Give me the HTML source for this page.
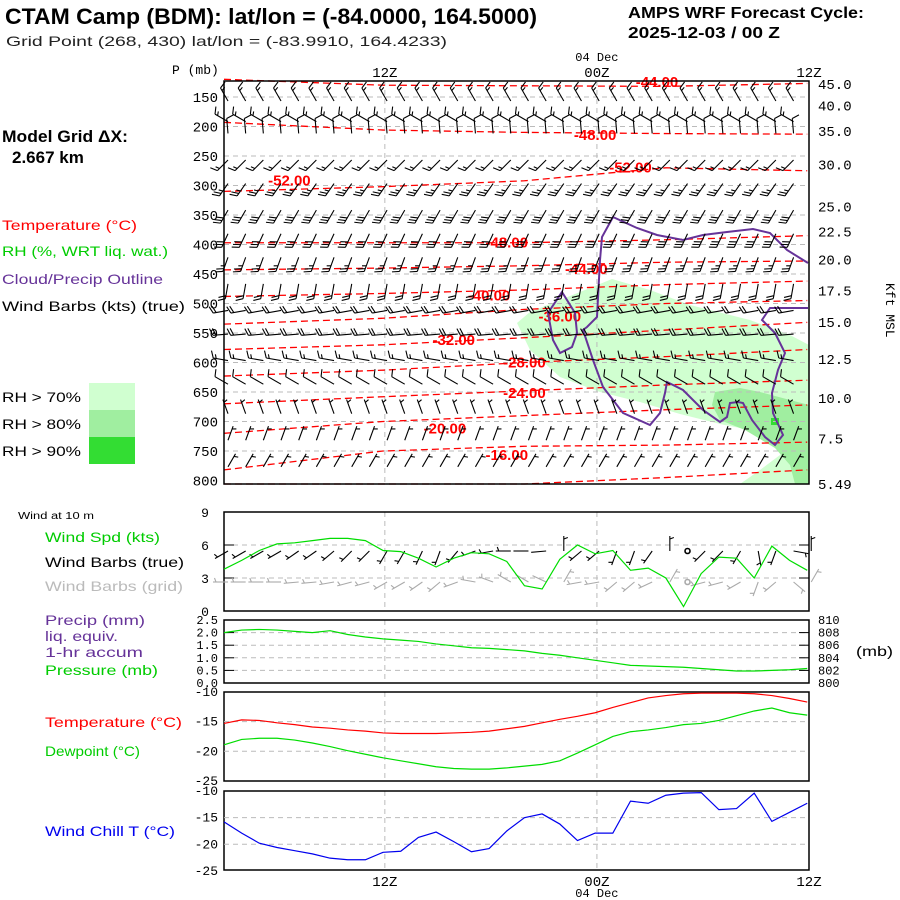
<!DOCTYPE html>
<html><head><meta charset="utf-8">
<style>
body{margin:0;background:#fff;}
svg{display:block;font-family:"Liberation Sans",sans-serif;}
.lt{font-size:14px;}
.tk{font-family:"Liberation Mono",monospace;}
</style></head>
<body>
<svg id="chart" width="900" height="900" viewBox="0 0 900 900">
<rect width="900" height="900" fill="#fff"/>
<text x="5" y="24" font-size="22" font-weight="bold" textLength="532" lengthAdjust="spacingAndGlyphs">CTAM Camp (BDM):  lat/lon = (-84.0000, 164.5000)</text>
<text x="6" y="46" font-size="14" fill="#222" textLength="441" lengthAdjust="spacingAndGlyphs">Grid Point (268, 430) lat/lon = (-83.9910, 164.4233)</text>
<text x="628" y="18" font-size="16" font-weight="bold" textLength="236" lengthAdjust="spacingAndGlyphs">AMPS WRF Forecast Cycle:</text>
<text x="628" y="38" font-size="16" font-weight="bold" textLength="152" lengthAdjust="spacingAndGlyphs">2025-12-03 / 00  Z</text>
<text x="2" y="142" font-size="17" font-weight="bold" textLength="126" lengthAdjust="spacingAndGlyphs">Model Grid ΔX:</text>
<text x="12" y="163" font-size="17" font-weight="bold">2.667 km</text>
<text x="2" y="230" class="lt" fill="#f00" textLength="135" lengthAdjust="spacingAndGlyphs">Temperature (°C)</text>
<text x="2" y="256" class="lt" fill="#00cc00" textLength="166" lengthAdjust="spacingAndGlyphs">RH (%, WRT liq. wat.)</text>
<text x="2" y="284" class="lt" fill="#663399" textLength="161" lengthAdjust="spacingAndGlyphs">Cloud/Precip Outline</text>
<text x="2" y="311" class="lt" fill="#000" textLength="183" lengthAdjust="spacingAndGlyphs">Wind Barbs (kts) (true)</text>
<text x="2" y="402" class="lt" textLength="79" lengthAdjust="spacingAndGlyphs">RH &gt; 70%</text>
<text x="2" y="429" class="lt" textLength="79" lengthAdjust="spacingAndGlyphs">RH &gt; 80%</text>
<text x="2" y="456" class="lt" textLength="79" lengthAdjust="spacingAndGlyphs">RH &gt; 90%</text>
<rect x="89" y="383" width="46" height="27" fill="#d0ffd0"/>
<rect x="89" y="410" width="46" height="27" fill="#a0eea0"/>
<rect x="89" y="437" width="46" height="27" fill="#33dd33"/>
<text x="172" y="74" font-size="13" class="tk">P (mb)</text>
<text x="886" y="283" font-size="13" class="tk" transform="rotate(90 886 283)">Kft MSL</text>

<text x="18" y="519" font-size="10" textLength="76" lengthAdjust="spacingAndGlyphs">Wind at 10 m</text>
<text x="45" y="542" class="lt" fill="#00cc00" textLength="115" lengthAdjust="spacingAndGlyphs">Wind Spd (kts)</text>
<text x="45" y="567" class="lt" fill="#000" textLength="139" lengthAdjust="spacingAndGlyphs">Wind Barbs (true)</text>
<text x="45" y="591" class="lt" fill="#bbb" textLength="138" lengthAdjust="spacingAndGlyphs">Wind Barbs (grid)</text>
<text x="45" y="625" class="lt" fill="#663399" textLength="100" lengthAdjust="spacingAndGlyphs">Precip (mm)</text>
<text x="45" y="641" class="lt" fill="#663399" textLength="73" lengthAdjust="spacingAndGlyphs">liq. equiv.</text>
<text x="45" y="657" class="lt" fill="#663399" textLength="98" lengthAdjust="spacingAndGlyphs">1-hr accum</text>
<text x="45" y="675" class="lt" fill="#00cc00" textLength="113" lengthAdjust="spacingAndGlyphs">Pressure (mb)</text>
<text x="856" y="656" class="lt" textLength="37" lengthAdjust="spacingAndGlyphs">(mb)</text>
<text x="45" y="727" class="lt" fill="#f00" textLength="137" lengthAdjust="spacingAndGlyphs">Temperature (°C)</text>
<text x="45" y="756" class="lt" fill="#00cc00" textLength="95" lengthAdjust="spacingAndGlyphs">Dewpoint (°C)</text>
<text x="45" y="836" class="lt" fill="#0000ee" textLength="130" lengthAdjust="spacingAndGlyphs">Wind Chill T (°C)</text>
<g id="g"></g>
</svg>
<script>
// ---- data ----
const hours = [0,1,2,3,4,5,6,7,8,9,10,11,12,13,14,15,16,17,18,19,20,21,22,23,24,25,26,27,28,29,30,31,32,33];
const windSpd = [3.8,4.6,5.5,6.1,6.2,6.4,6.6,6.6,6.4,5.5,5.4,4.8,4.0,4.8,5.3,5.2,4.5,2.3,2.0,4.7,6.0,5.2,5.5,3.7,3.9,3.0,0.4,3.4,4.9,4.8,3.0,5.9,4.6,3.7];
const sfcPres = [808.0,808.4,808.5,808.4,808.2,808.0,808.3,807.7,807.3,807.0,806.8,806.6,806.2,805.9,805.6,805.5,805.3,805.1,804.7,804.4,804.0,803.6,803.2,802.8,802.7,802.6,802.5,802.3,802.1,801.9,801.9,802.0,802.1,802.3];
const sfcTemp = [-15.3,-14.7,-14.8,-15.2,-15.5,-15.9,-16.1,-16.4,-16.6,-16.9,-17.0,-17.0,-17.0,-16.9,-16.8,-16.6,-16.2,-15.8,-15.2,-14.6,-14.1,-13.5,-12.6,-11.8,-11.0,-10.6,-10.3,-10.2,-10.2,-10.2,-10.3,-10.6,-11.1,-11.7];
const dewpt = [-18.9,-18.0,-17.8,-17.8,-18.1,-18.6,-19.2,-19.9,-20.5,-21.1,-21.6,-22.1,-22.6,-22.9,-23.0,-23.0,-22.8,-22.5,-22.2,-21.6,-20.3,-18.9,-17.5,-16.7,-16.4,-16.0,-15.5,-15.3,-14.8,-14.0,-13.2,-12.7,-13.5,-13.9];
const windChill = [-15.8,-17.9,-19.8,-20.6,-21.2,-21.8,-22.6,-22.9,-22.9,-21.5,-21.3,-18.7,-17.7,-19.5,-21.4,-20.8,-17.5,-15.0,-14.3,-16.2,-19.3,-17.9,-17.9,-11.9,-12.3,-10.8,-10.4,-10.3,-13.5,-13.3,-10.4,-15.7,-14.0,-12.3];
const wind10Dir = [240,240,240,240,235,235,230,225,225,210,210,205,200,220,250,260,270,270,265,0,230,230,200,200,215,0,0,225,225,210,170,200,100,0];
const rowP = [150,185,205,250,290,335,375,415,460,505,545,590,630,680,725,770];
const rowDir = [330,300,355,225,215,210,205,200,190,260,265,280,300,340,20,30];
const rowSpd = [15,15,10,15,25,30,30,25,20,20,20,15,10,5,5,5];
const presTicks = [150,200,250,300,350,400,450,500,550,600,650,700,750,800];
const kftLabels = ["45.0","40.0","35.0","30.0","25.0","22.5","20.0","17.5","15.0","12.5","10.0","7.5","5.49"];
const kftP = [128,164,208,264,336,378,425,478,531,594,660,729,806];
const contourLabels = ["-44.00","-48.00","-52.00","-52.00","-48.00","-44.00","-40.00","-36.00","-32.00","-28.00","-24.00","-20.00","-16.00"];
const contourLabelH = [24.5,21,3.7,23,16,20.5,15,19,13,17,17,12.5,16];
const contourLabelP = [123,213,290,268,395,440,485,520,560,598,650,710,755];
const contourH = [0,9,17,25,33];
const contours = [[120,130,131,132,127],[193,206,210,212,213],[310,302,292,270,275],[397,397,397,392,385],[443,440,436,430,428],[488,483,477,468,462],[535,525,510,500,495],[578,570,558,545,532],[623,613,600,590,578],[670,658,648,638,630],[720,700,690,680,672],[782,750,742,740,735],[810,808,806,795,782]];

// ---- axes ----
const X0=224, X1=809, HSPAN=33.1;
const x = h => X0 + h*(X1-X0)/HSPAN;
const yP = p => 97 + (p-150)*0.59;
const yW = v => 611 - v*11;
const yS = p => 683 - (p-800)*6.3;
const yT = t => 692 + (-10-t)*5.93;
const yC = t => 791 + (-10-t)*5.33;
const g = document.getElementById('g');
const NS='http://www.w3.org/2000/svg';
function mk(tag, attrs, parent){const e=document.createElementNS(NS,tag);for(const k in attrs)e.setAttribute(k,attrs[k]);(parent||g).appendChild(e);return e;}
function txt(s,xx,yy,attrs,parent){const e=mk('text',Object.assign({x:xx,y:yy},attrs),parent);e.textContent=s;return e;}

const rhG = mk('g',{});


let e;
e=mk('polygon',{points:'517,323 530,312 560,300 590,288 612,279 650,290 690,305 750,320 790,335 809,345 809,484 740,484 760,470 780,455 790,445 760,432 720,424 680,414 640,402 600,392 560,377 530,350',fill:'#d0ffd0'},rhG);


e=mk('polygon',{points:'715,392 740,388 760,392 790,400 809,405 809,484 795,484 790,465 775,448 745,430 720,420 712,405',fill:'#a0eea0'},rhG);


e=mk('rect',{x:771,y:418,width:8,height:7,fill:'#33dd33'},rhG);



presTicks.forEach(p=>{ if(p<800){ e=mk('line',{x1:X0,x2:X1,y1:yP(p),y2:yP(p),stroke:'#bbb','stroke-dasharray':'5,4'});  }});
[9.1,21.1].forEach(h=>{[[81,484],[512,611],[620,683],[692,781],[791,870]].forEach(r=>{e=mk('line',{x1:x(h),x2:x(h),y1:r[0],y2:r[1],stroke:'#bbb','stroke-dasharray':'5,4'});});});

contours.forEach((c,i)=>{
  const pts=c.map((p,j)=>x(contourH[j])+','+Math.min(484,yP(p))).join(' ');
  e=mk('polyline',{points:pts,fill:'none',stroke:'#f00','stroke-width':1.3,'stroke-dasharray':'7,4'});
  
  
});
contourLabels.forEach((s,i)=>{
  e=txt(s,x(contourLabelH[i]),yP(contourLabelP[i])+6,{fill:'#f00','font-size':15,'font-weight':'bold','text-anchor':'middle'});
  
  
});

e=mk('polyline',{points:'808,308 770,308 762,320 775,333 785,353 778,370 772,393 773,413 783,435 775,445 765,437 752,420 743,403 738,402 730,403 727,417 720,422 703,410 683,390 667,382 665,393 660,413 650,425 623,413 603,387 593,360 583,330 587,327 597,317 600,260 602,237 613,217 637,228 657,235 683,240 703,235 727,232 753,229 770,233 787,250 808,263',fill:'none',stroke:'#663399','stroke-width':2});


e=mk('polygon',{points:'562,292 575,313 577,333 572,347 560,353 553,340 548,313',fill:'none',stroke:'#663399','stroke-width':2});



function barb(cx,cy,dir,spd,color,parent){
  const grp=mk('g',{stroke:color,'stroke-width':1.1,fill:'none'},parent);
  
  
  if(spd<1){mk('circle',{cx:cx,cy:cy,r:2.5,'stroke-width':1.6},grp);return;}
  const a=dir*Math.PI/180, L=15;
  const dx=Math.sin(a), dy=-Math.cos(a);
  const tx=cx+dx*L, ty=cy+dy*L;
  mk('line',{x1:cx,y1:cy,x2:tx,y2:ty},grp);
  const px=-dy, py=dx;
  let rem=spd, k=0;
  while(rem>=7.5){const bx=tx-dx*k*3, by=ty-dy*k*3; mk('line',{x1:bx,y1:by,x2:bx+px*7+dx*3,y2:by+py*7+dy*3},grp); rem-=10;k++;}
  if(rem>=2.5){const bx=tx-dx*(k*3+(k?0:3)), by=ty-dy*(k*3+(k?0:3)); mk('line',{x1:bx,y1:by,x2:bx+px*4+dx*1.5,y2:by+py*4+dy*1.5},grp);}
}
const barbG=mk('g',{});


rowP.forEach((p,i)=>{hours.forEach(h=>{ if(x(h)>X1-3) return; barb(x(h)+4,yP(p)+4,rowDir[i],rowSpd[i],'#000',barbG);});});

function frame(y1,y2,name){e=mk('rect',{x:X0,y:y1,width:X1-X0,height:y2-y1,fill:'none',stroke:'#000','stroke-width':1.5});}
frame(81,484,'profile-frame');frame(512,611,'wind-panel-frame');frame(620,683,'pressure-panel-frame');frame(692,781,'temperature-panel-frame');frame(791,870,'windchill-panel-frame');

presTicks.forEach(p=>{e=txt(String(p),218,yP(p)+5,{'class':'tk','font-size':14,'text-anchor':'end'});});
kftLabels.forEach((s,i)=>{e=txt(s,818,yP(kftP[i])+5,{'class':'tk','font-size':14});});
[[9.1,'12Z'],[21.1,'00Z'],[33.1,'12Z']].forEach(t=>{e=txt(t[1],x(t[0]),77,{'class':'tk','font-size':14,'text-anchor':'middle'});});
e=txt('04 Dec',x(21.1),61,{'class':'tk','text-anchor':'middle','font-size':12});
[[9.1,'12Z'],[21.1,'00Z'],[33.1,'12Z']].forEach(t=>{e=txt(t[1],x(t[0]),886,{'class':'tk','font-size':14,'text-anchor':'middle'});});
e=txt('04 Dec',x(21.1),897,{'class':'tk','text-anchor':'middle','font-size':12});

[3,6].forEach(v=>{e=mk('line',{x1:X0,x2:X1,y1:yW(v),y2:yW(v),stroke:'#bbb','stroke-dasharray':'5,4'});
 mk('line',{x1:X0,x2:X0+10,y1:yW(v),y2:yW(v),stroke:'#000'});mk('line',{x1:X1-10,x2:X1,y1:yW(v),y2:yW(v),stroke:'#000'});});
['0','3','6','9'].forEach((s,i)=>{e=txt(s,205,yW(i*3)+5,{'class':'tk','font-size':13,'text-anchor':'middle'});});
const wb=mk('g',{});


hours.forEach((h,i)=>{barb(x(h)+4,yW(6)+6,wind10Dir[i],windSpd[i],'#000',wb);barb(x(h)+4,yW(3)+4,(wind10Dir[i]+30)%360,windSpd[i],'#aaa',wb);});
e=mk('polyline',{points:hours.map((h,i)=>x(h)+','+yW(windSpd[i])).join(' '),fill:'none',stroke:'#00dd00','stroke-width':1.2});


[802,804,806,808].forEach(p=>{e=mk('line',{x1:X0,x2:X1,y1:yS(p),y2:yS(p),stroke:'#bbb','stroke-dasharray':'5,4'});
 mk('line',{x1:X0,x2:X0+10,y1:yS(p),y2:yS(p),stroke:'#000'});mk('line',{x1:X1-10,x2:X1,y1:yS(p),y2:yS(p),stroke:'#000'});});
['0.0','0.5','1.0','1.5','2.0','2.5'].forEach((s,i)=>{e=txt(s,218,yS(800+i*2)+4,{'class':'tk','font-size':12,'text-anchor':'end'});});
['800','802','804','806','808','810'].forEach((s,i)=>{e=txt(s,818,yS(800+i*2)+4,{'class':'tk','font-size':12});});
e=mk('polyline',{points:hours.map((h,i)=>x(h)+','+yS(sfcPres[i])).join(' '),fill:'none',stroke:'#00dd00','stroke-width':1.2});


[-15,-20].forEach(t=>{e=mk('line',{x1:X0,x2:X1,y1:yT(t),y2:yT(t),stroke:'#bbb','stroke-dasharray':'5,4'});
 e=mk('line',{x1:X0,x2:X1,y1:yC(t),y2:yC(t),stroke:'#bbb','stroke-dasharray':'5,4'});});
['-10','-15','-20','-25'].forEach((s,i)=>{e=txt(s,218,yT(-10-5*i)+4,{'class':'tk','font-size':13,'text-anchor':'end'});
 e=txt(s,218,yC(-10-5*i)+4,{'class':'tk','font-size':13,'text-anchor':'end'});});
e=mk('polyline',{points:hours.map((h,i)=>x(h)+','+yT(sfcTemp[i])).join(' '),fill:'none',stroke:'#f00','stroke-width':1.2});

e=mk('polyline',{points:hours.map((h,i)=>x(h)+','+yT(dewpt[i])).join(' '),fill:'none',stroke:'#00dd00','stroke-width':1.2});

e=mk('polyline',{points:hours.map((h,i)=>x(h)+','+yC(windChill[i])).join(' '),fill:'none',stroke:'#0000ee','stroke-width':1.2});

</script>
</body></html>
